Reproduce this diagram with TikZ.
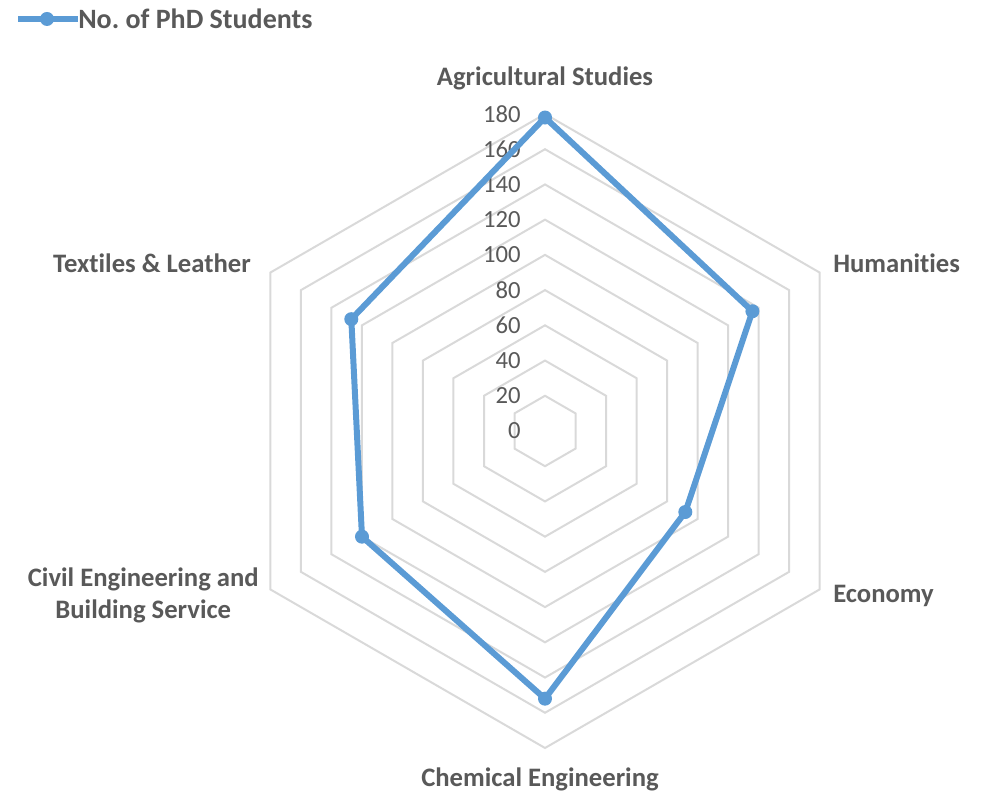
\documentclass[tikz,border=0pt]{standalone}
\usepackage{fontspec}
\setmainfont{Carlito}[Ligatures=NoCommon]
\usetikzlibrary{positioning}
\definecolor{seriesblue}{HTML}{5B9BD5}
\definecolor{gridgray}{HTML}{D9D9D9}
\definecolor{labelgray}{HTML}{595959}
\tikzset{
  ring/.style={draw=gridgray, line width=1.5pt},
  catlabel/.style={text=labelgray, font=\fontsize{20}{24}\selectfont\bfseries, inner sep=0pt, align=center},
  ticklabel/.style={text=labelgray, font=\fontsize{18.5}{22}\selectfont, anchor=east, inner sep=0pt},
  datadot/.style={circle, fill=seriesblue, inner sep=0pt, minimum size=10.5pt},
  series/.style={draw=seriesblue, line width=4.5pt, line join=round}
}

\begin{document}
\frenchspacing
\begin{tikzpicture}[x=0.75pt, y=0.75pt]
  \useasboundingbox (0,0) rectangle (981,795);
  % grid rings, 20 per step
  \begin{scope}[shift={(545,364)}]
    \foreach \v in {20,40,...,180} {
      \draw[ring] (90:\v*1.7611) -- (30:\v*1.7611) -- (-30:\v*1.7611) -- (-90:\v*1.7611) -- (210:\v*1.7611) -- (150:\v*1.7611) -- cycle;
    }
    \foreach \v in {0,20,...,180} {
      \node[ticklabel] (tick\v) at (-24,\v*1.7611) {\v};
    }
    % data points
    \node[datadot] (agri) at (90:178*1.7611) {};
    \node[datadot] (human) at (30:136*1.7611) {};
    \node[datadot] (econ) at (-30:92*1.7611) {};
    \node[datadot] (chem) at (-90:152*1.7611) {};
    \node[datadot] (civil) at (210:120*1.7611) {};
    \node[datadot] (textile) at (150:127*1.7611) {};
  \end{scope}
  \draw[series] (agri.center) -- (human.center) -- (econ.center) -- (chem.center) -- (civil.center) -- (textile.center) -- cycle;

  % category labels
  \node[catlabel] (agrilabel) at (545,717) {Agricultural Studies};
  \node[catlabel, anchor=west] (humanlabel) at (833,532) {Humanities};
  \node[catlabel, anchor=west] (econlabel) at (833,199) {Economy};
  \node[catlabel] (chemlabel) at (540,16) {Chemical Engineering};
  \node[catlabel, anchor=east] (civillabel) at (259,200) {Civil Engineering and\\Building Service};
  \node[catlabel, anchor=east] (textilelabel) at (251,532) {Textiles \& Leather};

  % legend
  \coordinate (legstart) at (18,776);
  \node[datadot] (legdot) at (47,776) {};
  \node[catlabel, anchor=west, font=\fontsize{21}{25}\selectfont\bfseries] (legtext) at (78,776) {No. of PhD Students};
  \draw[series] (legstart) -- (legtext.west);
\end{tikzpicture}
\end{document}
